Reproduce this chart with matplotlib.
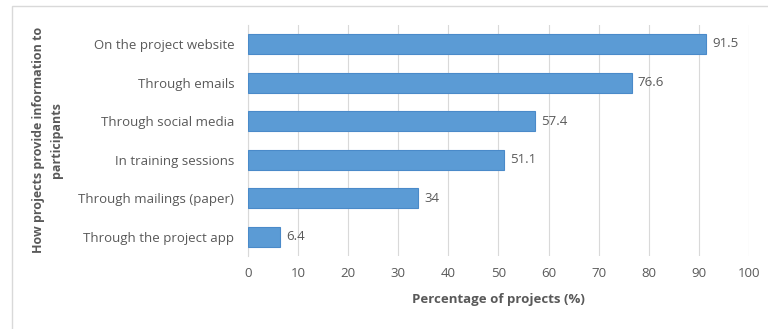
import matplotlib.pyplot as plt
from matplotlib.patches import Rectangle

plt.rcParams['font.family'] = ['Open Sans', 'DejaVu Sans']

# Data
categories = ["On the project website", "Through emails", "Through social media",
              "In training sessions", "Through mailings (paper)", "Through the project app"]
values = [91.5, 76.6, 57.4, 51.1, 34, 6.4]
value_labels = ["91.5", "76.6", "57.4", "51.1", "34", "6.4"]
x_ticks = [0, 10, 20, 30, 40, 50, 60, 70, 80, 90, 100]

text_color = "#595959"

fig = plt.figure(figsize=(7.68, 3.29), dpi=100)
ax = fig.add_axes([0.323, 0.221, 0.652, 0.704])

# outer chart frame
fig.patches.append(Rectangle((12 / 768, -0.01), 1.0, 1 - 6 / 329 + 0.01,
                             transform=fig.transFigure, fill=False,
                             edgecolor="#d9d9d9", linewidth=1.0))

pos = list(range(len(categories)))[::-1]
ax.barh(pos, values, height=0.52, color="#5B9BD5", edgecolor="#4A8AC9", linewidth=0.8, zorder=3)

for p, v, lab in zip(pos, values, value_labels):
    ax.text(v + 1.2, p, lab, va="center", ha="left", fontsize=9.5, color=text_color)

ax.set_xlim(0, 100)
ax.set_ylim(-0.5, len(categories) - 0.5)
ax.set_xticks(x_ticks)
ax.set_yticks(pos)
ax.set_yticklabels(categories)
ax.tick_params(axis="both", length=0, labelsize=9.5, colors=text_color)
ax.tick_params(axis="x", pad=8)
ax.tick_params(axis="y", pad=10)
ax.grid(axis="x", color="#d9d9d9", linewidth=0.8, zorder=0)
for s in ["top", "right", "bottom"]:
    ax.spines[s].set_visible(False)
ax.spines["left"].set_color("#d9d9d9")

ax.set_xlabel("Percentage of projects (%)", fontsize=9.5, fontweight="bold", color=text_color, labelpad=9)
fig.text(0.062, 0.575, "How projects provide information to\nparticipants", rotation=90,
         ha="center", va="center", fontsize=9, fontweight="bold", color=text_color,
         multialignment="center", linespacing=1.55)

fig.savefig("out.png", dpi=100)
